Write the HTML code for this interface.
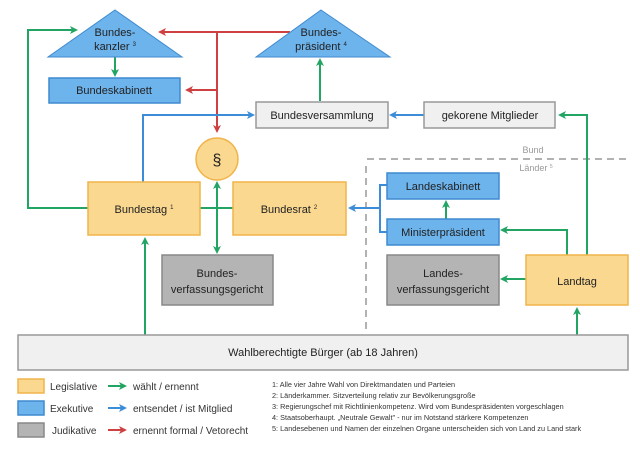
<!DOCTYPE html>
<html><head><meta charset="utf-8"><style>
body{margin:0;background:#fff}
svg{display:block;font-family:"Liberation Sans",sans-serif}
</style></head><body>
<svg width="640" height="450" viewBox="0 0 640 450" xmlns="http://www.w3.org/2000/svg">
<defs>
<marker id="g" markerWidth="8" markerHeight="8" refX="6" refY="4" orient="auto" markerUnits="userSpaceOnUse"><path d="M0,0 L8,4 L0,8 L2,4z" fill="#22a463"/></marker>
<marker id="b" markerWidth="8" markerHeight="8" refX="6" refY="4" orient="auto" markerUnits="userSpaceOnUse"><path d="M0,0 L8,4 L0,8 L2,4z" fill="#3a8dd6"/></marker>
<marker id="r" markerWidth="8" markerHeight="8" refX="6" refY="4" orient="auto" markerUnits="userSpaceOnUse"><path d="M0,0 L8,4 L0,8 L2,4z" fill="#cf4040"/></marker>
</defs>
<g fill="none" stroke-width="2">
<path d="M367 159 H628 M366 166 V330" stroke="#999" stroke-dasharray="7,5" stroke-width="1.5"/>
<path d="M290 32 H160" stroke="#cf4040" marker-end="url(#r)"/>
<path d="M217 32 V131" stroke="#cf4040" marker-end="url(#r)"/>
<path d="M217 90 H187" stroke="#cf4040" marker-end="url(#r)"/>
<path d="M143 182 V115 H253" stroke="#3a8dd6" marker-end="url(#b)"/>
<path d="M424 115 H391" stroke="#3a8dd6" marker-end="url(#b)"/>
<path d="M387 185 H380 V232 H387 M380 208 H350" stroke="#3a8dd6" marker-end="url(#b)"/>
<path d="M88 208 H28 V30 H76" stroke="#22a463" marker-end="url(#g)"/>
<path d="M115 57 V75" stroke="#22a463" marker-end="url(#g)"/>
<path d="M320 101 V60" stroke="#22a463" marker-end="url(#g)"/>
<path d="M200 208 H233" stroke="#22a463"/>
<path d="M217 200 V183" stroke="#22a463" marker-end="url(#g)"/>
<path d="M217 200 V252" stroke="#22a463" marker-end="url(#g)"/>
<path d="M145 335 V239" stroke="#22a463" marker-end="url(#g)"/>
<path d="M587 255 V115 H560" stroke="#22a463" marker-end="url(#g)"/>
<path d="M567 255 V230 H502" stroke="#22a463" marker-end="url(#g)"/>
<path d="M526 279 H502" stroke="#22a463" marker-end="url(#g)"/>
<path d="M577 335 V309" stroke="#22a463" marker-end="url(#g)"/>
<path d="M446 219 V202" stroke="#22a463" marker-end="url(#g)"/>
</g>
<polygon points="115,10 182,57 48,57" fill="#6db3ec" stroke="#3f8ad0"/>
<polygon points="321,10 390,57 256,57" fill="#6db3ec" stroke="#3f8ad0"/>
<g stroke-width="1.5">
<rect x="49" y="78" width="131" height="25" fill="#6db3ec" stroke="#3f8ad0"/>
<rect x="256" y="102" width="132" height="26" fill="#f0f0f0" stroke="#999"/>
<rect x="424" y="102" width="131" height="26" fill="#f0f0f0" stroke="#999"/>
<circle cx="217" cy="159" r="21" fill="#fbd890" stroke="#f0b44a"/>
<rect x="88" y="182" width="112" height="53" fill="#fbd890" stroke="#f0b44a"/>
<rect x="233" y="182" width="113" height="53" fill="#fbd890" stroke="#f0b44a"/>
<rect x="162" y="255" width="111" height="50" fill="#b4b4b4" stroke="#888"/>
<rect x="387" y="173" width="112" height="26" fill="#6db3ec" stroke="#3f8ad0"/>
<rect x="387" y="219" width="112" height="26" fill="#6db3ec" stroke="#3f8ad0"/>
<rect x="387" y="255" width="112" height="50" fill="#b4b4b4" stroke="#888"/>
<rect x="526" y="255" width="102" height="50" fill="#fbd890" stroke="#f0b44a"/>
<rect x="18" y="335" width="610" height="35" fill="#f0f0f0" stroke="#999"/>
<rect x="18" y="379" width="26" height="14" fill="#fbd890" stroke="#f0b44a"/>
<rect x="18" y="401" width="26" height="14" fill="#6db3ec" stroke="#3f8ad0"/>
<rect x="18" y="423" width="26" height="14" fill="#b4b4b4" stroke="#888"/>
</g>
<g stroke-width="2" fill="none">
<path d="M108 386 H125" stroke="#22a463" marker-end="url(#g)"/>
<path d="M108 408 H125" stroke="#3a8dd6" marker-end="url(#b)"/>
<path d="M108 430 H125" stroke="#cf4040" marker-end="url(#r)"/>
</g>
<g font-size="11" fill="#222" text-anchor="middle">
<text x="115" y="36">Bundes-</text><text x="115" y="50">kanzler <tspan font-size="6" dy="-4">3</tspan></text>
<text x="321" y="36">Bundes-</text><text x="321" y="50">präsident <tspan font-size="6" dy="-4">4</tspan></text>
<text x="114" y="94">Bundeskabinett</text>
<text x="322" y="119">Bundesversammlung</text>
<text x="490" y="119">gekorene Mitglieder</text>
<text x="217" y="165" font-size="16">§</text>
<text x="144" y="213">Bundestag <tspan font-size="6" dy="-4">1</tspan></text>
<text x="289" y="213">Bundesrat <tspan font-size="6" dy="-4">2</tspan></text>
<text x="217" y="277">Bundes-</text><text x="217" y="293">verfassungsgericht</text>
<text x="443" y="190">Landeskabinett</text>
<text x="443" y="236">Ministerpräsident</text>
<text x="443" y="277">Landes-</text><text x="443" y="293">verfassungsgericht</text>
<text x="577" y="285">Landtag</text>
<text x="323" y="356">Wahlberechtigte Bürger (ab 18 Jahren)</text>
</g>
<g font-size="9" fill="#999" text-anchor="middle">
<text x="533" y="153">Bund</text><text x="536" y="171">Länder <tspan font-size="5" dy="-3">5</tspan></text>
</g>
<g font-size="10" fill="#333">
<text x="50" y="390">Legislative</text><text x="50" y="412">Exekutive</text><text x="52" y="434">Judikative</text>
<text x="133" y="390">wählt / ernennt</text><text x="133" y="412">entsendet / ist Mitglied</text><text x="133" y="434">ernennt formal / Vetorecht</text>
</g>
<g font-size="7.3" fill="#333">
<text x="272" y="387">1: Alle vier Jahre Wahl von Direktmandaten und Parteien</text>
<text x="272" y="398">2: Länderkammer. Sitzverteilung relativ zur Bevölkerungsgroße</text>
<text x="272" y="409">3: Regierungschef mit Richtlinienkompetenz. Wird vom Bundespräsidenten vorgeschlagen</text>
<text x="272" y="420">4: Staatsoberhaupt. „Neutrale Gewalt" - nur im Notstand stärkere Kompetenzen</text>
<text x="272" y="431">5: Landesebenen und Namen der einzelnen Organe unterscheiden sich von Land zu Land stark</text>
</g>
</svg>
</body></html>
